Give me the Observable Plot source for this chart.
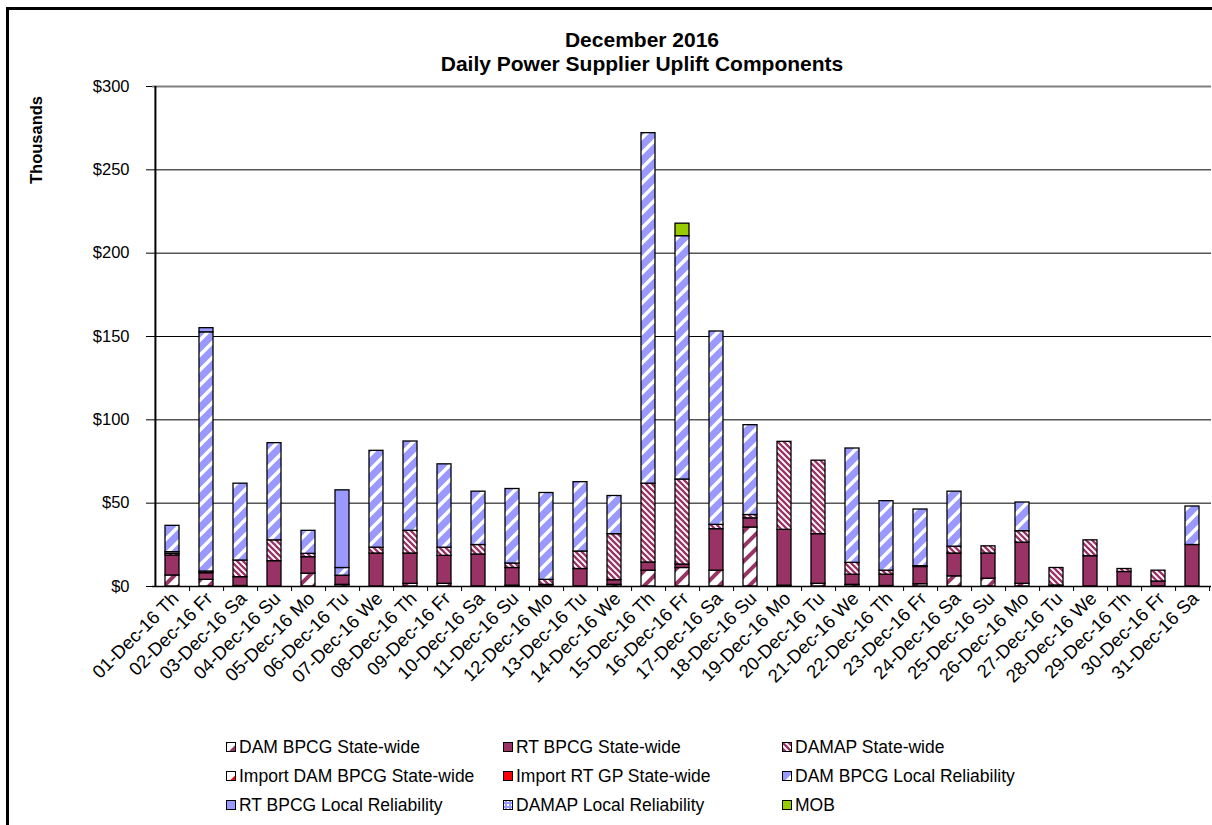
<!DOCTYPE html>
<html>
<head>
<meta charset="utf-8">
<script src="https://cdn.jsdelivr.net/npm/d3@7"></script>
<script src="https://cdn.jsdelivr.net/npm/@observablehq/plot@0.6"></script>
<style>
  html, body { margin: 0; padding: 0; background: #fff; }
  body { font-family: Arial, "Liberation Sans", sans-serif; color: #000; }
  #page { position: relative; width: 1212px; height: 825px; overflow: hidden; background: #fff; }
  #frame { position: absolute; left: 6px; top: 7px; width: 1400px; height: 1000px; border: 3px solid #000; box-sizing: border-box; }
  #chart { position: absolute; left: 0; top: 0; }
  #title { position: absolute; left: 342px; width: 600px; top: 28px; text-align: center; font-weight: bold; font-size: 21px; line-height: 24px; }
  #ylabel { position: absolute; left: 36px; top: 140px; transform: translate(-50%, -50%) rotate(-90deg); font-weight: bold; font-size: 16.5px; white-space: nowrap; }
  .leg { position: absolute; font-size: 17.5px; white-space: nowrap; display: flex; align-items: center; height: 20px; }
  .leg svg { margin-right: 3px; }
</style>
</head>
<body>
<svg width="0" height="0" style="position:absolute">
  <defs>
    <pattern id="pDAM" patternUnits="userSpaceOnUse" width="15" height="15">
      <rect width="15" height="15" fill="#ffffff"/>
      <path d="M-3.75,3.75 l7.5,-7.5 M0,15 l15,-15 M11.25,18.75 l7.5,-7.5" stroke="#993366" stroke-width="4"/>
    </pattern>
    <pattern id="pDAMAP" patternUnits="userSpaceOnUse" width="6" height="6">
      <rect width="6" height="6" fill="#ffffff"/>
      <path d="M-1.5,4.5 l3,3 M0,0 l6,6 M4.5,-1.5 l3,3" stroke="#993366" stroke-width="2.3"/>
    </pattern>
    <pattern id="pIMP" patternUnits="userSpaceOnUse" width="9" height="9">
      <rect width="9" height="9" fill="#ffffff"/>
      <path d="M4.5,9 L9,4.5 L9,9 Z" fill="#ff0000"/>
    </pattern>
    <pattern id="pLR" patternUnits="userSpaceOnUse" width="15" height="15">
      <rect width="15" height="15" fill="#9999ff"/>
      <path d="M-3.75,3.75 l7.5,-7.5 M0,15 l15,-15 M11.25,18.75 l7.5,-7.5" stroke="#ffffff" stroke-width="3.5"/>
    </pattern>
    <pattern id="pDAMAPLR" patternUnits="userSpaceOnUse" width="4" height="4">
      <rect width="4" height="4" fill="#9999ff"/>
      <rect width="2" height="2" fill="#ffffff"/>
    </pattern>
  </defs>
</svg>
<div id="page">
  <div id="frame"></div>
  <div id="chart"></div>
  <div id="title">December 2016<br>Daily Power Supplier Uplift Components</div>
  <div id="ylabel">Thousands</div>
  <div id="legend"></div>
</div>
<script>
// ---------------- data (thousands of $) ----------------
const dates = [
  "01-Dec-16 Th","02-Dec-16 Fr","03-Dec-16 Sa","04-Dec-16 Su","05-Dec-16 Mo","06-Dec-16 Tu",
  "07-Dec-16 We","08-Dec-16 Th","09-Dec-16 Fr","10-Dec-16 Sa","11-Dec-16 Su","12-Dec-16 Mo",
  "13-Dec-16 Tu","14-Dec-16 We","15-Dec-16 Th","16-Dec-16 Fr","17-Dec-16 Sa","18-Dec-16 Su",
  "19-Dec-16 Mo","20-Dec-16 Tu","21-Dec-16 We","22-Dec-16 Th","23-Dec-16 Fr","24-Dec-16 Sa",
  "25-Dec-16 Su","26-Dec-16 Mo","27-Dec-16 Tu","28-Dec-16 We","29-Dec-16 Th","30-Dec-16 Fr","31-Dec-16 Sa"
];
const seriesNames = [
  "DAM BPCG State-wide","RT BPCG State-wide","DAMAP State-wide",
  "Import DAM BPCG State-wide","Import RT GP State-wide","DAM BPCG Local Reliability",
  "RT BPCG Local Reliability","DAMAP Local Reliability","MOB"
];
const seriesFills = [
  "url(#pDAM)","#993366","url(#pDAMAP)",
  "url(#pIMP)","#ff0000","url(#pLR)",
  "#9999ff","url(#pDAMAPLR)","#99cc00"
];
const damBpcgSW   = [6.6,4,0.3,0,7.7,1,0,1.6,1.6,0,0.5,0,0,1,9.5,11.1,9.5,35.4,0.5,1.6,1,0.3,1.4,6.1,4.7,1.6,0,0,0,0,0];
const rtBpcgSW    = [12,4,5.3,15.2,9.9,5.5,19.8,18.2,16.8,19.2,10.6,1,10.5,2.8,4.9,2.1,24.9,5.5,33.5,29.8,6.1,6.8,10.3,13.7,15.1,24.7,0.6,18.2,8.7,3,24.9];
const damapSW     = [1,1,10,12.5,2,0,3.5,13.6,4.9,5.7,2.7,3,10.5,27.6,47.3,51,2.6,2,52.8,44.1,7.1,2.4,0.5,4.1,4.3,6.9,10.5,9.5,1.8,6.5,0];
const importDamSW = [1,0,0,0,0,0,0,0,0,0,0,0,0,0,0,0,0,0,0,0,0,0,0,0,0,0,0,0,0,0,0];
const importRtGP  = [0,0,0,0,0,0,0,0,0,0,0,0,0,0,0,0,0,0,0,0,0,0,0,0,0,0,0,0,0,0,0];
const damBpcgLR   = [15.8,143.5,46.1,58.3,13.8,4.6,58.1,53.6,50,32,44.7,52.1,41.6,22.9,210.3,146,116,53.9,0,0,68.6,41.7,34,33,0,17.2,0,0,0,0,23.1];
const rtBpcgLR    = [0,2.5,0,0,0,46.6,0,0,0,0,0,0,0,0,0,0,0,0,0,0,0,0,0,0,0,0,0,0,0,0,0];
const damapLR     = [0,0,0,0,0,0,0,0,0,0,0,0,0,0,0,0,0,0,0,0,0,0,0,0,0,0,0,0,0,0,0];
const mob         = [0,0,0,0,0,0,0,0,0,0,0,0,0,0,0,7.5,0,0,0,0,0,0,0,0,0,0,0,0,0,0,0];
const yTicks = [0,50,100,150,200,250,300];

const seriesValues = [damBpcgSW, rtBpcgSW, damapSW, importDamSW, importRtGP, damBpcgLR, rtBpcgLR, damapLR, mob];

// long table in stacking order (bottom to top)
const rows = [];
dates.forEach((d, i) => {
  seriesValues.forEach((vals, s) => {
    if (vals[i] > 0) rows.push({date: d, series: seriesNames[s], fill: seriesFills[s], value: vals[i]});
  });
});

const W = 1212, H = 725, ML = 152, MR = 1, MT = 86, MB = 139;
const step = (W - ML - MR) / dates.length;

const chart = Plot.plot({
  width: W, height: H,
  marginLeft: ML, marginRight: MR, marginTop: MT, marginBottom: MB,
  style: {fontFamily: "Arial, 'Liberation Sans', sans-serif", fontSize: "16px", color: "#000", background: "transparent", overflow: "visible"},
  x: {domain: dates, paddingInner: 0.59, paddingOuter: 0.295, align: 0.5, axis: null, label: null},
  y: {domain: [0, 300], axis: null, label: null},
  color: {type: "identity"},
  marks: [
    Plot.ruleY(yTicks.filter(t => t > 0 && t < 300), {stroke: "#000", strokeWidth: 1}),
    Plot.ruleY([300], {stroke: "#808080", strokeWidth: 2}),
    Plot.barY(rows, Plot.stackY({x: "date", y: "value", fill: "fill", z: "series", order: null, stroke: "#000", strokeWidth: 1.3})),
    Plot.ruleX([dates[0]], {dx: -step / 2, stroke: "#000", strokeWidth: 2}),
    Plot.ruleY([0], {stroke: "#000", strokeWidth: 1.5}),
    Plot.axisY({ticks: yTicks, tickSize: 6, tickPadding: 17, tickFormat: d => "$" + d, fontSize: 16.5, stroke: "#000", label: null}),
    Plot.axisX({tickSize: 5, tickFormat: () => "", dx: step / 2, stroke: "#000", label: null}),
    Plot.axisX({tickSize: 0, tickRotate: -45, tickPadding: 9, fontSize: 18.5, dx: 3, label: null})
  ]
});
document.getElementById("chart").appendChild(chart);

// legend
const legendX = [226, 503, 782];
const legendY = [737, 766, 795];
const legend = document.getElementById("legend");
seriesNames.forEach((name, i) => {
  const item = document.createElement("div");
  item.className = "leg";
  item.style.left = legendX[i % 3] + "px";
  item.style.top = legendY[Math.floor(i / 3)] + "px";
  item.innerHTML = `<svg width="10" height="10"><rect x="0.5" y="0.5" width="9" height="9" fill="${seriesFills[i]}" stroke="#000" stroke-width="1"/></svg><span></span>`;
  item.querySelector("span").textContent = name;
  legend.appendChild(item);
});
</script>
</body>
</html>
